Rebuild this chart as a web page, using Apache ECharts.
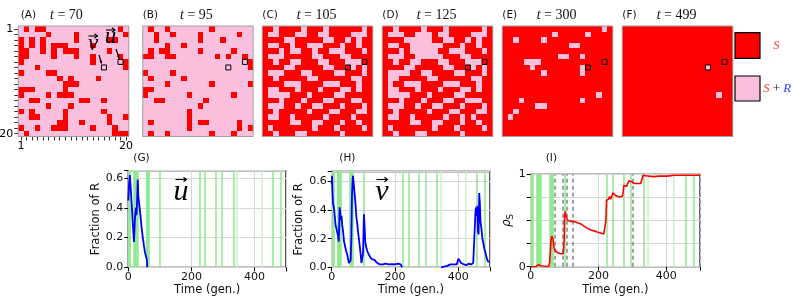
<!DOCTYPE html>
<html><head><meta charset="utf-8">
<script src="https://cdn.jsdelivr.net/npm/echarts@6/dist/echarts.min.js"></script>
<style>html,body{margin:0;padding:0;background:#fff}#c{width:793px;height:305px}</style>
</head><body><div id="c"></div>
<script>
// ---------------- data ----------------
const panelLabels = ['(A)','(B)','(C)','(D)','(E)','(F)'];
const panelTimes = ['70','95','105','125','300','499'];
const gridA = [
"01011000000000000010","00000100001000000001","10101000001000001100","10101011100001000000",
"11001010111000001000","11000010001001000010","10000000000001000001","00010000000000000001",
"10000110000000000000","00000001010000100000","00000000111000000000","11100000100000000000",
"10000101110000000000","00110000000110010000","00000100010000000000","10100000100000010000",
"00110000100000001001","00000001100100001000","10010011100001000100","01000000000000000111"];
const gridB = [
"01001000000010000000","00100100001000000100","00100000001000100000","00001001000000000000",
"01011000001000001000","11001100000001010010","00000000000000000001","00000000000000000001",
"10000100000000000000","01000001000000000000","00001000000010000001","11000000000000000000",
"10000000100000001000","00110000000100000000","00000000001000000000","00000000100000000000",
"00000000100000000000","01000000101100000100","00000000100000000101","01001000000010001000"];
const gridC = [
"11011110111011111101","10011100110011110001","11110011111001101011","10011011000111011011",
"11101001101100011101","10001111100111001111","11011001110011100011","11110011111001110101",
"10001110011110011101","11011111001111110011","11110001111000111011","10011101110111001011",
"10000111011110011111","11101110111001110011","10001101100111011101","11011111011100111001",
"10011011111011110111","11111001100111011011","10111111101110111101","11011100111111011111"];
const gridD = [
"11011110111011111101","10001100010011110001","11110000011001101011","10011000000111011011",
"11101000001100011101","10001100000111001111","11011001110011100011","11110011111001110101",
"10000110011110011101","10011111001111110011","10110001111000111011","10011101110111001011",
"10000111011110011111","11101110111001100011","10001101100111011101","11011111011100111001",
"10011011111011010111","11111001100111011011","10111111101110111101","11011100111111011111"];
const gridE = [
"11111111111111111101","11111111101111101111","11011110111111111111","11111111111100111111",
"11111111111111111111","11111111110011011111","11110001111111111111","11111011111111011111",
"11111110111111011111","11111111111111111111","11111111111111111111","11111111111111111111",
"11111111111111111011","11101111111111011111","11111100111111111111","11011111111111111111",
"10111111111111111111","11111111111111111111","11111111111111111111","11111111111111111111"];
const gridF = [
"11111111111111111111","11111111111111111111","11111111111111111111","11111111111111111111",
"11111111111111111111","11111111111111111111","11111111111111111111","11111111111111101111",
"11111111111111111111","11111111111111111111","11111111111111111111","11111111111111111111",
"11111111111111111011","11111111111111111111","11111111111111111111","11111111111111111111",
"11111111111111111111","11111111111111111111","11111111111111111111","11111111111111111111"];
const grids = [gridA, gridB, gridC, gridD, gridE, gridF];
const cellU = [18, 6];   // [col,row]
const cellV = [15, 7];

const timeU = [0,2,5,8,11,14,18,20,22,24,26,28,30,32,35,38,42,46,50,53,56,58,59,60];
const fracU = [0.45,0.55,0.62,0.52,0.42,0.3,0.17,0.28,0.36,0.4,0.35,0.45,0.59,0.47,0.42,0.36,0.27,0.2,0.14,0.1,0.09,0.09,0.05,0];

const timeV = [0,1,2,4,7,10,12,15,18,20,22,24,25,27,29,31,33,36,39,43,46,50,54,57,60,62,64,66,67,69,71,73,76,78,81,83,86,88,91,94,97,99,101,102,104,106,109,113,117,120,125,131,136,141,147,152,158,162,170,180,190,200,210,218,221,222,
  223,
  345,355,365,375,385,395,400,403,406,409,412,418,425,432,440,447,452,454,456,458,460,462,464,466,468,470,473,476,479,482,486,490,494,499];
const fracV = [0.58,0.64,0.55,0.45,0.42,0.35,0.3,0.27,0.28,0.22,0.18,0.3,0.42,0.38,0.33,0.36,0.3,0.25,0.18,0.14,0.11,0.08,0.03,0.03,0.05,0.2,0.5,0.6,0.64,0.6,0.55,0.5,0.42,0.35,0.3,0.25,0.2,0.16,0.1,0.03,0.04,0.1,0.3,0.37,0.28,0.18,0.14,0.11,0.09,0.08,0.06,0.05,0.05,0.035,0.03,0.02,0.02,0.02,0.025,0.02,0.022,0.02,0.025,0.02,0.02,0,
  null,
  0,0.005,0.01,0.02,0.02,0.02,0.06,0.055,0.06,0.03,0.03,0.02,0.015,0.025,0.02,0.03,0.03,0.38,0.42,0.36,0.43,0.25,0.23,0.52,0.45,0.32,0.27,0.2,0.17,0.13,0.1,0.06,0.04,0.04];

const timeS = [0,15,18,22,26,30,33,53,56,58,60,62,64,66,68,71,75,80,88,96,98,99,100,102,104,106,110,115,120,127,135,142,150,157,165,176,186,196,206,216,221,222,224,226,228,230,233,236,240,243,246,250,255,262,270,273,275,278,280,283,286,290,295,298,300,305,315,325,330,332,340,350,364,380,403,423,450,475,500];
const rhoS = [0,0,0.01,0.02,0.02,0.01,0,0,0.05,0.17,0.28,0.33,0.35,0.3,0.22,0.18,0.16,0.15,0.14,0.14,0.13,0.3,0.55,0.6,0.56,0.53,0.5,0.49,0.49,0.49,0.48,0.47,0.46,0.44,0.42,0.4,0.39,0.375,0.365,0.355,0.35,0.5,0.72,0.74,0.71,0.73,0.76,0.73,0.77,0.8,0.79,0.77,0.76,0.755,0.76,0.8,0.88,0.9,0.89,0.87,0.88,0.93,0.94,0.92,0.9,0.9,0.9,0.9,0.9,0.99,0.985,0.98,0.975,0.98,0.98,0.99,0.99,0.99,0.99];

const greenStrong = [2,4,6,18,20,22,25,27,29,57,59,61,63,65,100,225,243,276,296,333,457,482];
const greenFaint = [345,423];
const snapshotTimes = [70,95,105,125,300,499];

// ---------------- style / layout ----------------
const RED = '#ff0000', PINK = '#f9bfdc';
const SANS = 'DejaVu Sans', SERIF = 'Liberation Serif';
const PL = [18.3,142.7,262.3,382.3,502.3,622.3], PT = 26, PS = 110.5;
const plotBoxes = [
  {left:128.3, top:170.7, width:157.7, height:96.6},
  {left:331.7, top:171.5, width:158.3, height:95.8},
  {left:530.7, top:174.3, width:169.3, height:92.4}
];
const cats = Array.from({length:20},(_,i)=>String(i+1));

const chart = echarts.init(document.getElementById('c'), null, {renderer:'canvas'});

const gridsOpt = [], xAxes = [], yAxes = [], series = [];
grids.forEach((g, k) => {
  gridsOpt.push({left:PL[k], top:PT, width:PS, height:PS, containLabel:false, outerBoundsMode:'none'});
  const showAx = k === 0;
  xAxes.push({gridIndex:k, type:'category', data:cats, position:'bottom',
    axisLine:{show:false}, splitLine:{show:false},
    axisTick:{show:showAx, alignWithLabel:true, interval:0, length:4, lineStyle:{color:'#000', width:0.8}},
    axisLabel:{show:showAx, interval:0, margin:4, fontSize:11, fontFamily:SANS, color:'#000',
      formatter:(v,i)=> (i===0||i===19)? v : ''}});
  yAxes.push({gridIndex:k, type:'category', data:cats, inverse:true,
    axisLine:{show:false}, splitLine:{show:false},
    axisTick:{show:showAx, alignWithLabel:true, interval:0, length:4, lineStyle:{color:'#000', width:0.8}},
    axisLabel:{show:showAx, interval:0, margin:5, fontSize:11, fontFamily:SANS, color:'#000',
      formatter:(v,i)=> (i===0||i===19)? v : ''}});
  const data = [];
  g.forEach((row, r) => { for (let c=0;c<20;c++) data.push([c, r, +row[c]]); });
  series.push({type:'custom', xAxisIndex:k, yAxisIndex:k, data, z:2, silent:true, animation:false,
    renderItem:(params, api) => {
      const p = api.coord([api.value(0), api.value(1)]);
      const s = api.size([1, 1]);
      const x0 = Math.round(p[0]-s[0]/2), x1 = Math.round(p[0]+s[0]/2);
      const y0 = Math.round(p[1]-s[1]/2), y1 = Math.round(p[1]+s[1]/2);
      return {type:'rect', shape:{x:x0, y:y0, width:x1-x0, height:y1-y0},
        style:{fill: api.value(2) ? RED : PINK, stroke:null, lineWidth:0}};
    }});
  series.push({type:'scatter', xAxisIndex:k, yAxisIndex:k, data:[cellU, cellV], symbol:'rect', symbolSize:5,
    itemStyle:{color:'rgba(0,0,0,0)', borderColor:'#000', borderWidth:1, opacity:1}, z:5, silent:true, animation:false});
});

const tickFont = {fontSize:11, fontFamily:SANS, color:'#111'};
plotBoxes.forEach((b, j) => {
  const gi = 6 + j;
  gridsOpt.push(Object.assign({show:true, borderColor:'#000', borderWidth:1.3, containLabel:false, outerBoundsMode:'none'}, b));
  xAxes.push({gridIndex:gi, type:'value', min:0, max:500, interval:200,
    axisLine:{show:false}, axisTick:{show:true, length:4, lineStyle:{color:'#000'}},
    axisLabel:Object.assign({margin:4, formatter:v=> v%200===0 ? String(v) : ''}, tickFont),
    splitLine:{show:true, lineStyle:{color:'#d6d6d6', width:1}},
    name:'Time (gen.)', nameLocation:'middle', nameGap:17, nameTextStyle:{fontSize:11.5, fontFamily:SANS, color:'#111'}});
  if (j < 2) {
    yAxes.push({gridIndex:gi, type:'value', min:0, max: j===0 ? 0.65 : 0.67, interval:0.2,
      axisLine:{show:false}, axisTick:{show:true, length:4, lineStyle:{color:'#000'}},
      axisLabel:Object.assign({margin:5, formatter:v=> Math.abs(v*5-Math.round(v*5))<1e-6 ? v.toFixed(1) : ''}, tickFont),
      splitLine:{show:true, lineStyle:{color:'#d6d6d6', width:1}},
      name:'Fraction of R', nameLocation:'middle', nameGap:23, nameTextStyle:{fontSize:11.5, fontFamily:SANS, color:'#111'}});
  } else {
    yAxes.push({gridIndex:gi, type:'value', min:0, max:1, interval:0.25,
      axisLine:{show:false}, axisTick:{show:true, length:4, lineStyle:{color:'#000'}},
      axisLabel:Object.assign({margin:5, formatter:v=> (v===0||v===1) ? String(v) : ''}, tickFont),
      splitLine:{show:true, lineStyle:{color:'#d6d6d6', width:1}},
      name:'{r|ρ}{s|S}', nameLocation:'middle', nameGap:14,
      nameTextStyle:{color:'#111', rich:{r:{fontSize:12, fontFamily:SANS, fontStyle:'italic'}, s:{fontSize:8.5, fontFamily:SANS, padding:[7,0,0,0]}}}});
  }
  const gLines = greenStrong.map(t=>({xAxis:t, lineStyle:{color:'#90e690', width:1.6, type:'solid', opacity:0.95}}))
    .concat(greenFaint.map(t=>({xAxis:t, lineStyle:{color:'#cdf3cd', width:1.6, type:'solid'}})));
  series.push({type:'line', xAxisIndex:gi, yAxisIndex:gi, data:[], z:1, silent:true, animation:false,
    markLine:{z:1, symbol:['none','none'], silent:true, animation:false, label:{show:false}, data:gLines}});
  if (j === 2) {
    series.push({type:'line', xAxisIndex:gi, yAxisIndex:gi, data:[], z:2, silent:true, animation:false,
      markLine:{z:2, symbol:['none','none'], silent:true, animation:false, label:{show:false},
        data: snapshotTimes.map(t=>({xAxis:t, lineStyle:{color:'#858585', width:1.5, type:[4,3]}}))}});
  }
});
const pair = (ts, vs) => ts.map((t,i)=>[t, vs[i]]);
series.push({type:'line', xAxisIndex:6, yAxisIndex:6, data:pair(timeU, fracU), showSymbol:false, z:3, lineStyle:{color:'#0000ff', width:1.8}, animation:false, connectNulls:false});
series.push({type:'line', xAxisIndex:7, yAxisIndex:7, data:pair(timeV, fracV), showSymbol:false, z:3, lineStyle:{color:'#0000ff', width:1.8}, animation:false, connectNulls:false});
series.push({type:'line', xAxisIndex:8, yAxisIndex:8, data:pair(timeS, rhoS), showSymbol:false, z:3, lineStyle:{color:'#ff0000', width:1.6}, animation:false});

// ---------------- graphic: frames, titles, legend ----------------
const graphic = [];
PL.forEach((l, k) => {
  graphic.push({type:'rect', shape:{x:l, y:PT, width:PS, height:PS}, style:{fill:'none', stroke:'#a0a0a0', lineWidth:1}, z:100, silent:true});
  graphic.push({type:'text', x:(k===0? l+2.4 : l), y:15, style:{text:panelLabels[k], font:'10.5px "DejaVu Sans"', fill:'#111', verticalAlign:'middle'}, z:100});
  graphic.push({type:'text', x:[50,180,296.7,416.7,536.7,656.7][k], y:15,
    style:{text:'{i|t} = '+panelTimes[k], font:'14px "Liberation Serif"', fill:'#111', verticalAlign:'middle',
      rich:{i:{fontStyle:'italic', fontSize:14, fontFamily:SERIF}}}, z:100});
});
// legend boxes
graphic.push({type:'rect', shape:{x:735, y:32.7, width:25, height:25.6}, style:{fill:RED, stroke:'#000', lineWidth:1.2}, z:100});
graphic.push({type:'rect', shape:{x:735, y:76, width:25, height:25}, style:{fill:PINK, stroke:'#000', lineWidth:1.2}, z:100});
graphic.push({type:'text', x:773, y:45.5, style:{text:'S', font:'italic 13px "Liberation Serif"', fill:'#ff3b3b', verticalAlign:'middle'}, z:100});
graphic.push({type:'text', x:763, y:88.5, style:{text:'{s|S}{p| + }{r|R}', font:'13px "Liberation Serif"', verticalAlign:'middle',
  rich:{s:{fill:'#ff3b3b', fontStyle:'italic', fontSize:13, fontFamily:SERIF}, p:{fill:'#111', fontSize:13, fontFamily:SERIF}, r:{fill:'#2244ff', fontStyle:'italic', fontSize:13, fontFamily:SERIF}}}, z:100});
// panel labels for lower row
[['(G)',133.3],['(H)',339.3],['(I)',545.7]].forEach(([t,x])=>{
  graphic.push({type:'text', x, y:158.5, style:{text:t, font:'10.5px "DejaVu Sans"', fill:'#111', verticalAlign:'middle'}, z:100});
});
// vector labels: letter centred (x-height) at cy, arrow at arrowY
function vecLabel(letter, cx, cy, size, arrowY, arrowW) {
  graphic.push({type:'text', x:cx, y:cy - 0.11*size, style:{text:letter, font:'italic '+size+'px "Liberation Serif"', fill:'#000', align:'center', verticalAlign:'middle'}, z:100});
  graphic.push({type:'line', shape:{x1:cx-arrowW/2, y1:arrowY, x2:cx+arrowW/2, y2:arrowY}, style:{stroke:'#000', lineWidth:1.1}, z:100});
  graphic.push({type:'polyline', shape:{points:[[cx+arrowW/2-3, arrowY-2.2],[cx+arrowW/2, arrowY],[cx+arrowW/2-3, arrowY+2.2]]}, style:{stroke:'#000', lineWidth:1.1, fill:'none'}, z:100});
}
vecLabel('u', 181, 195, 30, 179.5, 11);
vecLabel('v', 382, 195, 30, 179.5, 11);
vecLabel('v', 93, 46.5, 23, 36, 9);
vecLabel('u', 110.5, 39.5, 23, 30, 9);
// small pointer arrows in panel A
function pointer(x1,y1,x2,y2){
  graphic.push({type:'line', shape:{x1,y1,x2,y2}, style:{stroke:'#000', lineWidth:1.2}, z:100});
  const a=Math.atan2(y2-y1,x2-x1), h=3;
  graphic.push({type:'polygon', shape:{points:[[x2,y2],[x2-h*Math.cos(a-0.5),y2-h*Math.sin(a-0.5)],[x2-h*Math.cos(a+0.5),y2-h*Math.sin(a+0.5)]]}, style:{fill:'#000'}, z:100});
}
pointer(99,55,101.5,63.5);
pointer(116,49,119,58);

chart.setOption({
  backgroundColor:'#fff', animation:false,
  grid:gridsOpt, xAxis:xAxes, yAxis:yAxes,
  series, graphic
});
</script></body></html>
